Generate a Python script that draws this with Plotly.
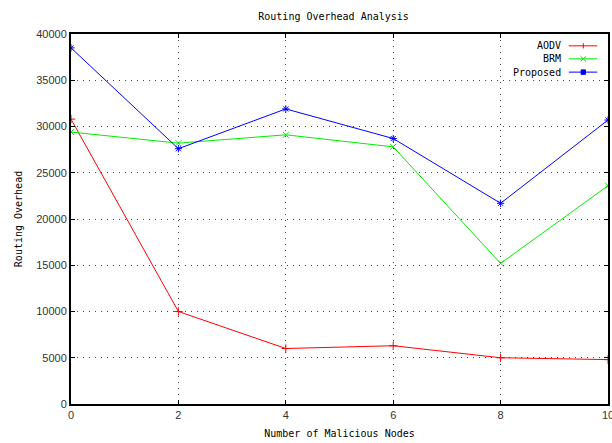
import plotly.graph_objects as go

nodes = [0, 2, 4, 6, 8, 10]
aodv = [30800, 10000, 6000, 6300, 5000, 4800]
brm = [29400, 28200, 29100, 27800, 15200, 23600]
proposed = [38500, 27600, 31900, 28700, 21700, 30700]

x_ticks = [0, 2, 4, 6, 8, 10]
y_ticks = [0, 5000, 10000, 15000, 20000, 25000, 30000, 35000, 40000]

series = [
    ("AODV", aodv, "#ff0000", "cross-thin-open"),
    ("BRM", brm, "#00ee00", "x-thin-open"),
    ("Proposed", proposed, "#0000ff", "asterisk-open"),
]

fig = go.Figure()
for name, vals, col, sym in series:
    fig.add_trace(go.Scatter(
        x=nodes, y=vals, name=name, mode="lines+markers", showlegend=False,
        line=dict(color=col, width=1),
        marker=dict(symbol=sym, size=6, color=col, line=dict(color=col, width=1)),
    ))

mono = "DejaVu Sans Mono, monospace"

# custom gnuplot-style legend (text right-aligned, key sample on the right)
leg_rows = [0.968, 0.933, 0.897]
for (name, vals, col, sym), yy in zip(series, leg_rows):
    fig.add_annotation(x=0.916, y=yy, xref="paper", yref="paper", text=name,
                       showarrow=False, xanchor="right", yanchor="middle",
                       font=dict(family=mono, size=10, color="black"))
    fig.add_shape(type="line", xref="paper", yref="paper", x0=0.927, x1=0.980, y0=yy, y1=yy,
                  line=dict(color=col, width=1))
    xm = 0.954
    if sym.startswith("cross"):
        fig.add_shape(type="line", xref="paper", yref="paper", x0=xm, x1=xm, y0=yy - 0.007, y1=yy + 0.007,
                      line=dict(color=col, width=1))
    elif sym.startswith("x"):
        fig.add_shape(type="line", xref="paper", yref="paper", x0=xm - 0.005, x1=xm + 0.005,
                      y0=yy - 0.007, y1=yy + 0.007, line=dict(color=col, width=1))
        fig.add_shape(type="line", xref="paper", yref="paper", x0=xm - 0.005, x1=xm + 0.005,
                      y0=yy + 0.007, y1=yy - 0.007, line=dict(color=col, width=1))
    else:
        fig.add_shape(type="rect", xref="paper", yref="paper", x0=xm - 0.004, x1=xm + 0.004,
                      y0=yy - 0.006, y1=yy + 0.006, line=dict(color=col, width=1), fillcolor=col)

axis_font = dict(family="Liberation Sans, Arial, sans-serif", size=11, color="#333333")
grid = dict(showgrid=True, gridcolor="#444444", griddash="1px,5px", gridwidth=1)
fig.update_layout(
    width=612, height=443,
    margin=dict(l=71, r=4, t=34, b=39),
    paper_bgcolor="white", plot_bgcolor="white",
    title=dict(text="Routing Overhead Analysis", x=0.545, xanchor="center", y=0.963, yanchor="middle",
               font=dict(family=mono, size=10, color="black")),
    showlegend=False,
    xaxis=dict(range=[0, 10], tickvals=x_ticks, ticks="inside", ticklen=4, tickcolor="black",
               showline=True, linecolor="black", linewidth=2, mirror="ticks",
               zeroline=False, tickfont=axis_font, ticklabeloverflow="allow", automargin=False,
               title=dict(text="Number of Malicious Nodes", standoff=10,
                          font=dict(family=mono, size=10, color="black")), **grid),
    yaxis=dict(range=[0, 40000], tickvals=y_ticks, ticks="inside", ticklen=4, tickcolor="black",
               showline=True, linecolor="black", linewidth=2, mirror="ticks",
               zeroline=False, tickfont=axis_font, tickformat="d", automargin=False,
               title=dict(text="Routing Overhead", standoff=12,
                          font=dict(family=mono, size=10, color="black")), **grid),
)
fig.write_html("out.html")
